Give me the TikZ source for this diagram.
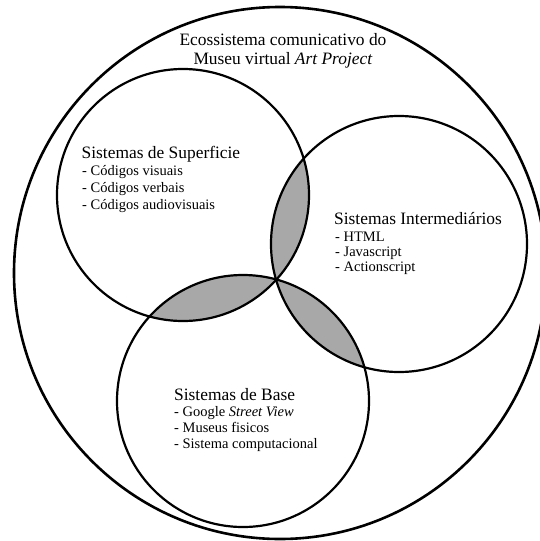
\documentclass[tikz,border=0pt]{standalone}
\usepackage{fontspec}
\setmainfont{Liberation Serif}
\definecolor{lensgray}{RGB}{168,168,168}
\tikzset{
  ring/.style={draw=black, line width=2.2pt},
  outerring/.style={draw=black, line width=2.6pt},
  titletext/.style={anchor=base, inner sep=0pt, font=\fontsize{17.4}{18}\selectfont},
  heading/.style={anchor=base west, inner sep=0pt, font=\fontsize{17.4}{18}\selectfont},
  item/.style={anchor=base west, inner sep=0pt, font=\fontsize{14.5}{16}\selectfont},
}
\begin{document}
\begin{tikzpicture}[x=1pt,y=-1pt]
\useasboundingbox (0,0) rectangle (540,541);
\fill[white] (0,0) rectangle (540,541);
\coordinate (O) at (280,273);
\coordinate (S) at (183,195);
\coordinate (I) at (399,244);
\coordinate (B) at (243,401);
% lenses
\begin{scope}\clip (S) circle (126pt); \fill[lensgray] (I) circle (128pt);\end{scope}
\begin{scope}\clip (S) circle (126pt); \fill[lensgray] (B) circle (126pt);\end{scope}
\begin{scope}\clip (I) circle (128pt); \fill[lensgray] (B) circle (126pt);\end{scope}
% circles
\draw[outerring] (O) circle (266pt);
\draw[ring] (S) circle (126pt);
\draw[ring] (I) circle (128pt);
\draw[ring] (B) circle (126pt);
% title
\node[titletext] (t1) at (283,45) {Ecossistema comunicativo do};
\node[titletext] (t2) at (283,64) {Museu virtual \textit{Art Project}};
% Superficie
\node[heading] (sh) at (81.5,158) {Sistemas de Superficie};
\node[item] (s1) at (82,175.5) {- Códigos visuais};
\node[item] (s2) at (82,192.5) {- Códigos verbais};
\node[item] (s3) at (82,209.5) {- Códigos audiovisuais};
% Intermediarios
\node[heading] (ih) at (334,224) {Sistemas Intermediários};
\node[item] (i1) at (335,241.5) {- HTML};
\node[item] (i2) at (335,256.5) {- Javascript};
\node[item] (i3) at (335,271.5) {- Actionscript};
% Base
\node[heading] (bh) at (174,400) {Sistemas de Base};
\node[item] (b1) at (174,416) {- Google \textit{Street View}};
\node[item] (b2) at (174,432.5) {- Museus fisicos};
\node[item] (b3) at (174,448.5) {- Sistema computacional};
\end{tikzpicture}
\end{document}
